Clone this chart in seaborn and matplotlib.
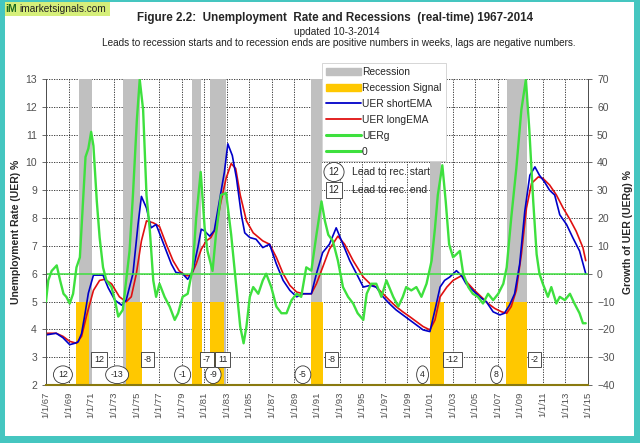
import numpy as np
import pandas as pd
import seaborn as sns
import matplotlib.pyplot as plt
from matplotlib.patches import Patch, Rectangle
from matplotlib.lines import Line2D

sns.set_style('white')
plt.rcParams['font.family'] = ['Liberation Sans', 'DejaVu Sans']

# unemployment rate, short EMA (decimal years, %)
short_years = [1967.0, 1967.9, 1968.5, 1969.1, 1969.55, 1969.85, 1970.15, 1970.45, 1970.75, 1971.2,
               1971.6, 1972.05, 1972.5, 1973.1, 1973.7, 1974.1, 1974.7, 1975.15, 1975.45, 1975.9,
               1976.3, 1976.75, 1977.2, 1977.65, 1978.1, 1978.5, 1979.1, 1979.55, 1980.0, 1980.45,
               1980.75, 1981.0, 1981.5, 1981.9, 1982.35, 1982.8, 1983.1, 1983.5, 1983.87, 1984.3,
               1984.6, 1985.05, 1985.6, 1986.2, 1986.8, 1987.4, 1988.0, 1988.6, 1989.2, 1989.8,
               1990.5, 1990.95, 1991.5, 1992.1, 1992.7, 1993.3, 1993.9, 1994.5, 1995.1, 1995.7,
               1996.25, 1996.85, 1997.4, 1998.0, 1998.6, 1999.2, 1999.8, 2000.4, 2001.0, 2001.45,
               2001.9, 2002.3, 2002.75, 2003.35, 2003.8, 2004.2, 2004.8, 2005.4, 2006.0, 2006.6,
               2007.2, 2007.6, 2008.05, 2008.5, 2008.95, 2009.4, 2009.85, 2010.3, 2010.7, 2011.15,
               2011.6, 2012.05, 2012.5, 2013.1, 2013.65, 2014.25, 2014.8]
short_uer = [3.8, 3.86, 3.7, 3.45, 3.5, 3.55, 3.85, 4.55, 5.3, 5.95,
             5.95, 5.95, 5.5, 5.05, 4.87, 5.05, 6.0, 7.77, 8.78, 8.36,
             7.65, 7.77, 7.3, 6.82, 6.35, 6.05, 6.0, 5.8, 6.1, 6.95,
             7.6, 7.55, 7.35, 7.55, 8.6, 9.66, 10.67, 10.25, 9.43, 8.12,
             7.47, 7.3, 7.24, 6.94, 7.06, 6.35, 5.76, 5.4, 5.17, 5.28,
             5.28, 6.0, 6.76, 7.06, 7.65, 7.06, 6.47, 6.0, 5.52, 5.58,
             5.52, 5.17, 4.93, 4.7, 4.52, 4.34, 4.16, 3.98, 3.92, 4.7,
             5.52, 5.76, 5.88, 6.11, 5.93, 5.64, 5.4, 5.17, 4.99, 4.63,
             4.52, 4.58, 4.87, 5.28, 6.35, 8.24, 9.54, 9.84, 9.54, 9.3,
             9.0, 8.83, 8.12, 7.77, 7.3, 6.82, 6.0]

# unemployment rate, long EMA
long_years = [1967.0, 1967.9, 1968.5, 1969.1, 1969.7, 1970.15, 1970.6, 1971.2, 1971.75, 1972.2,
              1972.8, 1973.5, 1974.1, 1974.55, 1975.0, 1975.45, 1975.9, 1976.5, 1977.05, 1977.65,
              1978.25, 1978.8, 1979.4, 1979.85, 1980.3, 1980.75, 1981.2, 1981.6, 1982.05, 1982.5,
              1982.95, 1983.4, 1983.8, 1984.2, 1984.75, 1985.35, 1986.2, 1986.8, 1987.4, 1988.0,
              1988.6, 1989.2, 1989.8, 1990.5, 1990.95, 1991.5, 1992.1, 1992.85, 1993.45, 1994.2,
              1995.1, 1995.7, 1996.25, 1996.85, 1997.4, 1998.0, 1998.6, 1999.2, 1999.8, 2000.4,
              2001.0, 2001.45, 2001.9, 2002.5, 2003.05, 2003.8, 2004.4, 2004.95, 2005.55, 2006.15,
              2006.75, 2007.35, 2007.8, 2008.2, 2008.65, 2009.1, 2009.55, 2010.0, 2010.6, 2011.0,
              2011.6, 2012.2, 2012.8, 2013.4, 2013.95, 2014.55, 2014.8]
long_uer = [3.86, 3.86, 3.75, 3.57, 3.5, 3.75, 4.5, 5.4, 5.76, 5.8,
            5.64, 5.17, 4.99, 5.17, 6.0, 7.18, 7.9, 7.83, 7.7, 7.06,
            6.47, 6.1, 5.93, 5.93, 6.35, 6.88, 7.18, 7.3, 7.65, 8.6,
            9.43, 9.96, 9.78, 8.83, 7.9, 7.47, 7.18, 7.06, 6.59, 6.0,
            5.58, 5.34, 5.28, 5.28, 5.64, 6.23, 6.88, 7.35, 7.06, 6.47,
            5.88, 5.64, 5.52, 5.28, 5.05, 4.82, 4.63, 4.46, 4.28, 4.1,
            3.98, 4.34, 5.17, 5.52, 5.76, 5.93, 5.64, 5.4, 5.17, 4.93,
            4.75, 4.63, 4.58, 4.82, 5.4, 6.7, 8.36, 9.25, 9.48, 9.43,
            9.19, 8.83, 8.36, 7.95, 7.53, 6.94, 6.47]

# growth of unemployment rate UERg (% , right axis)
g_years = [1967.0, 1967.2, 1967.5, 1967.95, 1968.25, 1968.55, 1968.8, 1969.1, 1969.4, 1969.7,
           1970.0, 1970.3, 1970.5, 1970.75, 1971.0, 1971.2, 1971.5, 1971.75, 1972.05, 1972.35,
           1972.8, 1973.1, 1973.4, 1973.8, 1974.1, 1974.4, 1974.7, 1975.05, 1975.3, 1975.6,
           1975.9, 1976.2, 1976.5, 1976.75, 1977.05, 1977.5, 1977.95, 1978.4, 1978.7, 1979.1,
           1979.55, 1980.0, 1980.3, 1980.7, 1981.05, 1981.3, 1981.75, 1982.05, 1982.5, 1982.95,
           1983.4, 1983.8, 1984.2, 1984.5, 1984.75, 1985.05, 1985.35, 1985.8, 1986.2, 1986.5,
           1986.95, 1987.4, 1987.85, 1988.3, 1988.75, 1989.2, 1989.6, 1990.05, 1990.5, 1990.95,
           1991.4, 1991.7, 1992.0, 1992.4, 1992.85, 1993.3, 1993.75, 1994.2, 1994.6, 1995.1,
           1995.4, 1995.8, 1996.25, 1996.7, 1997.15, 1997.75, 1998.2, 1998.6, 1998.9, 1999.35,
           1999.8, 2000.25, 2000.7, 2001.15, 2001.45, 2001.7, 2002.1, 2002.4, 2002.7, 2003.05,
           2003.35, 2003.65, 2003.95, 2004.4, 2004.8, 2005.25, 2005.7, 2006.15, 2006.6, 2007.05,
           2007.5, 2007.8, 2008.2, 2008.65, 2009.1, 2009.5, 2009.8, 2010.15, 2010.45, 2010.7,
           2011.0, 2011.45, 2011.75, 2012.2, 2012.5, 2012.95, 2013.4, 2013.8, 2014.25, 2014.55,
           2014.8]
g_growth = [-10, -2.4, 1, 3, -2.4, -7.2, -8.3, -10.7, -7.2, 2.3,
            5.9, 27.2, 42, 45, 51, 46, 26, 13, 2.3, -2.4,
            -4.8, -9.5, -15.4, -13, -2.4, 8.2, 28.3, 55.5, 69.8, 59,
            28.3, 15.3, -2.4, -8.3, -3.6, -8.3, -11.8, -16.6, -14.2, -8.3,
            -7.2, 2.3, 20, 36.6, 16.5, 8.2, 1, 14, 28.3, 29,
            14, -2.4, -19, -25, -19, -8.3, -4.8, -7.2, -2.4, 0,
            -4.8, -11.8, -14.2, -14.2, -9.5, -7.2, -8.3, 2.3, 1.1, 14,
            26, 19, 14, 11.8, 4.7, -4.8, -8.3, -10.7, -14.2, -16.6,
            -7.2, -3.6, -3.6, -8.3, -2.4, -8.3, -11.8, -8.3, -4.8, -6,
            -4.8, -8.3, -3.6, 4.7, 16.5, 28.3, 39, 26, 10.6, 5.9,
            7, 8.2, 0, -4.8, -7.2, -8.3, -10.7, -7.2, -9.5, -7.2,
            -3.6, 2.3, 20, 37.8, 59, 69.8, 52, 26, 7, 0,
            -3.6, -8.3, -4.8, -10.7, -8.3, -9.5, -7.2, -10.7, -14.2, -17.8,
            -17.8]

# NBER recessions and recession signals
rec_start = [1969.94, 1973.82, 1979.94, 1981.53, 1990.51, 2000.98, 2007.86]
rec_end = [1971.03, 1975.29, 1980.74, 1982.94, 1991.45, 2002.02, 2009.6]
sig_start = [1969.65, 1974.06, 1979.96, 1981.55, 1990.51, 2000.98, 2007.71]
sig_end = [1970.82, 1975.5, 1980.85, 1982.74, 1991.54, 2002.22, 2009.6]

# leads (weeks) to recession start / end
start_lead_x = [1968.5, 1973.3, 1979.1, 1981.8, 1989.75, 2000.35, 2006.9]
start_lead = ['12', '-13', '-1', '-9', '-5', '4', '8']
end_lead_x = [1971.7, 1976.0, 1981.25, 1982.65, 1992.3, 2003.0, 2010.25]
end_lead = ['12', '-8', '-7', '11', '-8', '-12', '-2']

tick_years = list(range(1967, 2016, 2))
tick_labels = [f"1/1/{y % 100:02d}" for y in tick_years]

GRAY = '#c0c0c0'
GOLD = '#ffc800'
BLUE = '#0000c8'
RED = '#e01010'
GREEN = '#3ee03e'

fig = plt.figure(figsize=(6.4, 4.43), dpi=100)
ax = fig.add_axes([46 / 640, 1 - 385 / 443, (588 - 46) / 640, (385 - 79) / 443])
ax2 = ax.twinx()

ymin, ymax = 2, 13
sig_level = 5
for s, e in zip(rec_start, rec_end):
    ax.axvspan(s, e, color=GRAY, lw=0, zorder=1)
for s, e in zip(sig_start, sig_end):
    ax.axvspan(s, e, ymin=0, ymax=(sig_level - ymin) / (ymax - ymin), color=GOLD, lw=0, zorder=1.1)

df_s = pd.DataFrame({'year': short_years, 'uer': short_uer})
df_l = pd.DataFrame({'year': long_years, 'uer': long_uer})
df_g = pd.DataFrame({'year': g_years, 'g': g_growth})
sns.lineplot(data=df_s, x='year', y='uer', ax=ax, color=BLUE, lw=1.2, zorder=3)
sns.lineplot(data=df_l, x='year', y='uer', ax=ax, color=RED, lw=1.2, zorder=2.9)
sns.lineplot(data=df_g, x='year', y='g', ax=ax2, color=GREEN, lw=1.7, zorder=3)
ax2.axhline(0, color=GREEN, lw=1.1, zorder=2.5)

ax.set_xlim(1967, 2015)
ax.set_ylim(ymin, ymax)
ax2.set_ylim(-40, 70)
ax.set_yticks(range(2, 14))
ax2.set_yticks(range(-40, 71, 10))
ax.set_xticks(tick_years)
ax.set_xticklabels(tick_labels, rotation=90)
ax.set_xticks(range(1967, 2016), minor=True)

ax.set_axisbelow(True)
ax.grid(True, which='major', color='#222222', ls=(0, (1.5, 1.5)), lw=0.6)

for a in (ax, ax2):
    a.tick_params(axis='both', which='both', direction='out', length=3, width=0.6,
                  labelsize=7.5, labelcolor='#505050', color='#505050')
    for sp in a.spines.values():
        sp.set_color('#505050')
        sp.set_linewidth(0.7)
ax.tick_params(axis='x', which='major', labelsize=6.8, pad=2)
ax.tick_params(axis='x', which='minor', length=2)
ax2.spines['bottom'].set_color('#8a7a10')
ax2.spines['bottom'].set_linewidth(1.5)
ax2.spines['top'].set_visible(False)
ax.spines['top'].set_visible(False)

ax.set_xlabel('')
ax.set_ylabel('Unemployment Rate (UER) %', fontsize=7.5, fontweight='bold', labelpad=3)
ax2.set_ylabel('Growth of UER (UERg) %', fontsize=7.5, fontweight='bold', labelpad=6)

for x, t in zip(start_lead_x, start_lead):
    ax.text(x, 2.37, t, ha='center', va='center', fontsize=6.3, zorder=5,
            bbox=dict(boxstyle='ellipse,pad=0.2', fc='white', ec='#333333', lw=0.6))
for x, t in zip(end_lead_x, end_lead):
    ax.text(x, 2.92, t, ha='center', va='center', fontsize=6.5, zorder=5,
            bbox=dict(boxstyle='square,pad=0.3', fc='white', ec='#333333', lw=0.6))

handles = [Patch(color=GRAY), Patch(color=GOLD),
           Line2D([], [], color=BLUE, lw=1.3), Line2D([], [], color=RED, lw=1.3),
           Line2D([], [], color=GREEN, lw=2.2), Line2D([], [], color=GREEN, lw=2.2)]
labels = ['Recession', 'Recession Signal', 'UER shortEMA', 'UER longEMA', 'UERg', '0']
leg = ax2.legend(handles, labels, loc='upper left', bbox_to_anchor=(322 / 640, 1 - 63 / 443),
                 bbox_transform=fig.transFigure, fontsize=7.4, frameon=True, fancybox=False,
                 edgecolor='#d0d0d0', framealpha=1, borderaxespad=0, labelspacing=0.58,
                 handlelength=3.4, handletextpad=0.1, borderpad=0.4)
leg.get_frame().set_linewidth(0.6)
leg.set_zorder(10)

# lead key
fig.text(334 / 640, 1 - 172 / 443, '12', ha='center', va='center', fontsize=7,
         bbox=dict(boxstyle='ellipse,pad=0.18', fc='white', ec='#333333', lw=0.6), zorder=11)
fig.text(352 / 640, 1 - 172 / 443, 'Lead to rec. start', ha='left', va='center', fontsize=7.5, zorder=11)
fig.text(334 / 640, 1 - 190 / 443, '12', ha='center', va='center', fontsize=7,
         bbox=dict(boxstyle='square,pad=0.3', fc='white', ec='#333333', lw=0.6), zorder=11)
fig.text(352 / 640, 1 - 190 / 443, 'Lead to rec. end', ha='left', va='center', fontsize=7.5, zorder=11)

# titles
fig.text(0.524, 1 - 18 / 443, 'Figure 2.2:  Unemployment  Rate and Recessions  (real-time) 1967-2014',
         ha='center', va='center', fontsize=8.4, fontweight='bold')
fig.text(0.527, 1 - 32 / 443, 'updated 10-3-2014', ha='center', va='center', fontsize=7.3, color='#222222')
fig.text(0.53, 1 - 43 / 443,
         'Leads to recession starts and to recession ends are positive numbers in weeks, lags are negative numbers.',
         ha='center', va='center', fontsize=7.2, color='#222222')

# logo
fig.add_artist(Rectangle((2 / 640, 1 - 16 / 443), 108 / 640, 14 / 443, transform=fig.transFigure,
                         fc='#d6ef7a', ec='none'))
fig.text(5 / 640, 1 - 9 / 443, 'iM', ha='left', va='center', fontsize=7.5, fontweight='bold', color='#1f6b1f')
fig.text(19 / 640, 1 - 9 / 443, 'imarketsignals.com', ha='left', va='center', fontsize=7.3, color='#222222')

# frame
TEAL = '#45c6c0'
fig.add_artist(Rectangle((0, 0), 5 / 640, 1, transform=fig.transFigure, fc=TEAL, ec='none'))
fig.add_artist(Rectangle((1 - 6 / 640, 0), 6 / 640, 1, transform=fig.transFigure, fc=TEAL, ec='none'))
fig.add_artist(Rectangle((0, 0), 1, 7 / 443, transform=fig.transFigure, fc=TEAL, ec='none'))
fig.add_artist(Rectangle((0, 1 - 2 / 443), 1, 2 / 443, transform=fig.transFigure, fc=TEAL, ec='none'))

fig.savefig('out.png', dpi=100)
